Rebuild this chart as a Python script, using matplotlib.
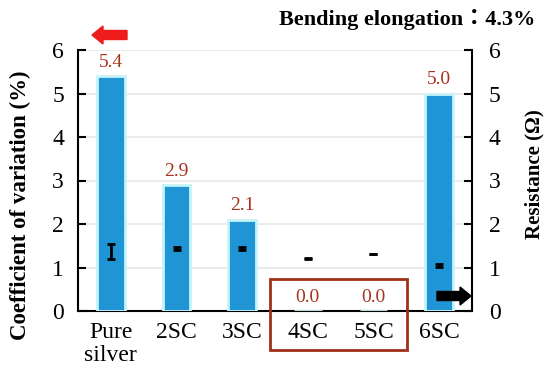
import matplotlib.pyplot as plt
from matplotlib.patches import Rectangle, FancyArrow

plt.rcParams['font.family'] = ['Liberation Serif', 'Noto Sans CJK JP', 'DejaVu Serif']

categories = ["Pure\nsilver", "2SC", "3SC", "4SC", "5SC", "6SC"]
cv_values = [5.4, 2.9, 2.1, 0.0, 0.0, 5.0]
resistance = [1.36, 1.44, 1.44, 1.21, 1.31, 1.05]
resistance_err = [0.17, 0.04, 0.04, 0.01, 0.01, 0.04]

fig = plt.figure(figsize=(5.5, 3.83), dpi=100)
ax = fig.add_axes([78 / 550, 1 - 311 / 383, 394 / 550, 261 / 383])
ax2 = ax.twinx()

x = list(range(len(categories)))
bars = ax.bar(x, cv_values, width=0.42, color="#1f95d5",
              edgecolor="#c6f4f8", linewidth=2, zorder=3)
for xi, v in zip(x, cv_values):
    ax.text(xi, v + 0.12, f"{v:.1f}", ha="center", va="bottom",
            color="#a8321c", fontsize=14, zorder=4)

ax2.errorbar(x, resistance, yerr=resistance_err, fmt="none", ecolor="black",
             elinewidth=2, capsize=3, capthick=2, zorder=5)

for a in (ax, ax2):
    a.set_ylim(0, 6)
    a.set_yticks(range(7))
    a.tick_params(axis="y", direction="in", length=6, width=1.5, labelsize=17)
    for s in a.spines.values():
        s.set_visible(False)
ax.spines["left"].set_visible(True)
ax.spines["left"].set_linewidth(1.5)
ax.spines["bottom"].set_visible(True)
ax.spines["bottom"].set_linewidth(1.5)
ax2.spines["right"].set_visible(True)
ax2.spines["right"].set_linewidth(1.5)
ax.tick_params(axis="y", pad=10)
ax2.tick_params(axis="y", pad=12)

ax.set_xlim(-0.5, 5.5)
ax.set_xticks(x)
ax.set_xticklabels(categories, fontsize=17, linespacing=1.1)
ax.tick_params(axis="x", length=0, pad=8)
ax.yaxis.grid(True, color="#e8e8e8", linewidth=1.2, zorder=0)
ax.set_axisbelow(True)

ax.set_ylabel("Coefficient of variation (%)", fontsize=16.5, fontweight="bold")
ax.yaxis.set_label_coords(-0.119, 0.406)
ax2.set_ylabel("Resistance (Ω)", fontsize=15, fontweight="bold")
ax2.yaxis.set_label_coords(1.132, 0.525)

fig.text(535 / 550, 1 - 20 / 383, "Bending elongation\uff1a4.3%", ha="right", va="center",
         fontsize=16, fontweight="bold")

# red box around 4SC / 5SC
fig.patches.append(Rectangle((270 / 550, 1 - 350 / 383), 137 / 550, 71 / 383,
                             transform=fig.transFigure, fill=False,
                             edgecolor="#a0301a", linewidth=2, zorder=10))

# arrows indicating axes
fig.patches.append(FancyArrow(127 / 550, 1 - 35 / 383, -35 / 550, 0,
                              width=9 / 383, head_width=18 / 383, head_length=11 / 550,
                              transform=fig.transFigure, color="#ee1c1c",
                              length_includes_head=True))
fig.patches.append(FancyArrow(437 / 550, 1 - 296 / 383, 34 / 550, 0,
                              width=9 / 383, head_width=18 / 383, head_length=11 / 550,
                              transform=fig.transFigure, color="black",
                              length_includes_head=True))

fig.savefig("out.png", dpi=100)
